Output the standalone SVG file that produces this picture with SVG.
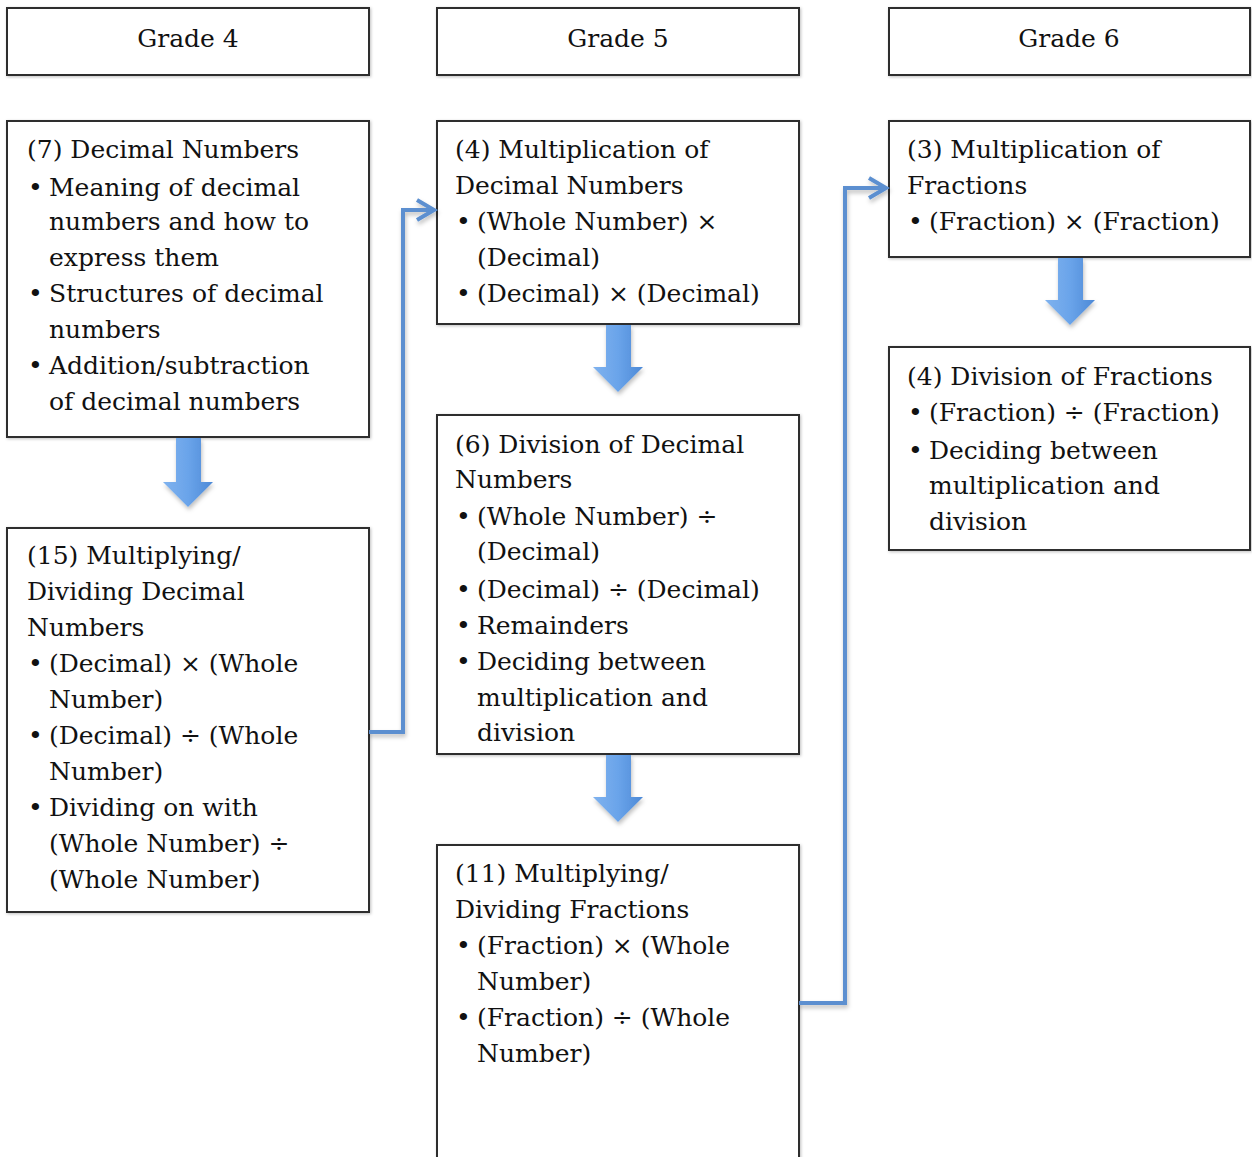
<svg xmlns="http://www.w3.org/2000/svg" width="1252" height="1157" viewBox="0 0 1252 1157">
<style>
.box{fill:#fff;stroke:#2e2e2e;stroke-width:2;filter:url(#sh)}
.t{font-family:"DejaVu Serif","Liberation Serif",serif;font-size:25px;fill:#111}
.h{text-anchor:middle}
.con{fill:none;stroke:#5b8fd0;stroke-width:4;filter:url(#sh2)}
.blk{fill:url(#bg);filter:url(#sh2)}
</style>
<defs>
<filter id="sh" x="-5%" y="-5%" width="110%" height="110%"><feDropShadow dx="1" dy="1" stdDeviation="1.5" flood-color="#000" flood-opacity="0.25"/></filter>
<filter id="sh2" x="-20%" y="-20%" width="140%" height="140%"><feDropShadow dx="1" dy="3" stdDeviation="2" flood-color="#000" flood-opacity="0.25"/></filter>
<linearGradient id="bg" x1="0" y1="0" x2="1" y2="0">
<stop offset="0" stop-color="#7fb2ee"/><stop offset="0.5" stop-color="#6aa4ea"/><stop offset="1" stop-color="#4d89d6"/>
</linearGradient>
<marker id="ah" markerWidth="12" markerHeight="12" refX="9" refY="6" orient="auto" markerUnits="userSpaceOnUse" viewBox="0 0 12 12" overflow="visible">
<path d="M-8,-4 L9,6 L-8,16" fill="none" stroke="#5b8fd0" stroke-width="4"/>
</marker>
</defs>

<g id="g4h"><rect class="box" x="7" y="8" width="362" height="67"/><text class="t h" x="188" y="47">Grade 4</text></g>
<g id="g5h"><rect class="box" x="437" y="8" width="362" height="67"/><text class="t h" x="618" y="47">Grade 5</text></g>
<g id="g6h"><rect class="box" x="889" y="8" width="361" height="67"/><text class="t h" x="1069" y="47">Grade 6</text></g>

<g id="n7">
<rect class="box" x="7" y="121" width="362" height="316"/>
<text class="t"><tspan x="27" y="158">(7) Decimal Numbers</tspan>
<tspan x="28" y="196">•</tspan><tspan x="49" y="196">Meaning of decimal</tspan>
<tspan x="49" y="230">numbers and how to</tspan>
<tspan x="49" y="266">express them</tspan>
<tspan x="28" y="302">•</tspan><tspan x="49" y="302">Structures of decimal</tspan>
<tspan x="49" y="338">numbers</tspan>
<tspan x="28" y="374">•</tspan><tspan x="49" y="374">Addition/subtraction</tspan>
<tspan x="49" y="410">of decimal numbers</tspan></text>
</g>

<g id="n15">
<rect class="box" x="7" y="528" width="362" height="384"/>
<text class="t"><tspan x="27" y="564">(15) Multiplying/</tspan>
<tspan x="27" y="600">Dividing Decimal</tspan>
<tspan x="27" y="636">Numbers</tspan>
<tspan x="28" y="672">•</tspan><tspan x="49" y="672">(Decimal) × (Whole</tspan>
<tspan x="49" y="708">Number)</tspan>
<tspan x="28" y="744">•</tspan><tspan x="49" y="744">(Decimal) ÷ (Whole</tspan>
<tspan x="49" y="780">Number)</tspan>
<tspan x="28" y="816">•</tspan><tspan x="49" y="816">Dividing on with</tspan>
<tspan x="49" y="852">(Whole Number) ÷</tspan>
<tspan x="49" y="888">(Whole Number)</tspan></text>
</g>

<g id="n4m">
<rect class="box" x="437" y="121" width="362" height="203"/>
<text class="t"><tspan x="455" y="158">(4) Multiplication of</tspan>
<tspan x="455" y="194">Decimal Numbers</tspan>
<tspan x="456" y="230">•</tspan><tspan x="477" y="230">(Whole Number) ×</tspan>
<tspan x="477" y="266">(Decimal)</tspan>
<tspan x="456" y="302">•</tspan><tspan x="477" y="302">(Decimal) × (Decimal)</tspan></text>
</g>

<g id="n6">
<rect class="box" x="437" y="415" width="362" height="339"/>
<text class="t"><tspan x="455" y="453">(6) Division of Decimal</tspan>
<tspan x="455" y="488">Numbers</tspan>
<tspan x="456" y="525">•</tspan><tspan x="477" y="525">(Whole Number) ÷</tspan>
<tspan x="477" y="560">(Decimal)</tspan>
<tspan x="456" y="598">•</tspan><tspan x="477" y="598">(Decimal) ÷ (Decimal)</tspan>
<tspan x="456" y="634">•</tspan><tspan x="477" y="634">Remainders</tspan>
<tspan x="456" y="670">•</tspan><tspan x="477" y="670">Deciding between</tspan>
<tspan x="477" y="706">multiplication and</tspan>
<tspan x="477" y="741">division</tspan></text>
</g>

<g id="n11">
<rect class="box" x="437" y="845" width="362" height="330"/>
<text class="t"><tspan x="455" y="882">(11) Multiplying/</tspan>
<tspan x="455" y="918">Dividing Fractions</tspan>
<tspan x="456" y="954">•</tspan><tspan x="477" y="954">(Fraction) × (Whole</tspan>
<tspan x="477" y="990">Number)</tspan>
<tspan x="456" y="1026">•</tspan><tspan x="477" y="1026">(Fraction) ÷ (Whole</tspan>
<tspan x="477" y="1062">Number)</tspan></text>
</g>

<g id="n3">
<rect class="box" x="889" y="121" width="361" height="136"/>
<text class="t"><tspan x="907" y="158">(3) Multiplication of</tspan>
<tspan x="907" y="194">Fractions</tspan>
<tspan x="908" y="230">•</tspan><tspan x="929" y="230">(Fraction) × (Fraction)</tspan></text>
</g>

<g id="n4d">
<rect class="box" x="889" y="347" width="361" height="203"/>
<text class="t"><tspan x="907" y="385">(4) Division of Fractions</tspan>
<tspan x="908" y="421">•</tspan><tspan x="929" y="421">(Fraction) ÷ (Fraction)</tspan>
<tspan x="908" y="459">•</tspan><tspan x="929" y="459">Deciding between</tspan>
<tspan x="929" y="494">multiplication and</tspan>
<tspan x="929" y="530">division</tspan></text>
</g>

<g id="connectors">
<path class="blk" d="M176,438 H201 V482 H213 L188,507 L163,482 H176 Z"/>
<path class="blk" d="M606,325 H631 V367 H643 L618,392 L593,367 H606 Z"/>
<path class="blk" d="M606,755 H631 V797 H643 L618,822 L593,797 H606 Z"/>
<path class="blk" d="M1058,258 H1083 V300 H1095 L1070,325 L1045,300 H1058 Z"/>
<path class="con" d="M369,732 H403 V210 H434" marker-end="url(#ah)"/>
<path class="con" d="M414,573 H434" marker-end="url(#ah)"/>
<path class="con" d="M799,1003 H845 V188 H886" marker-end="url(#ah)"/>
</g>
</svg>
